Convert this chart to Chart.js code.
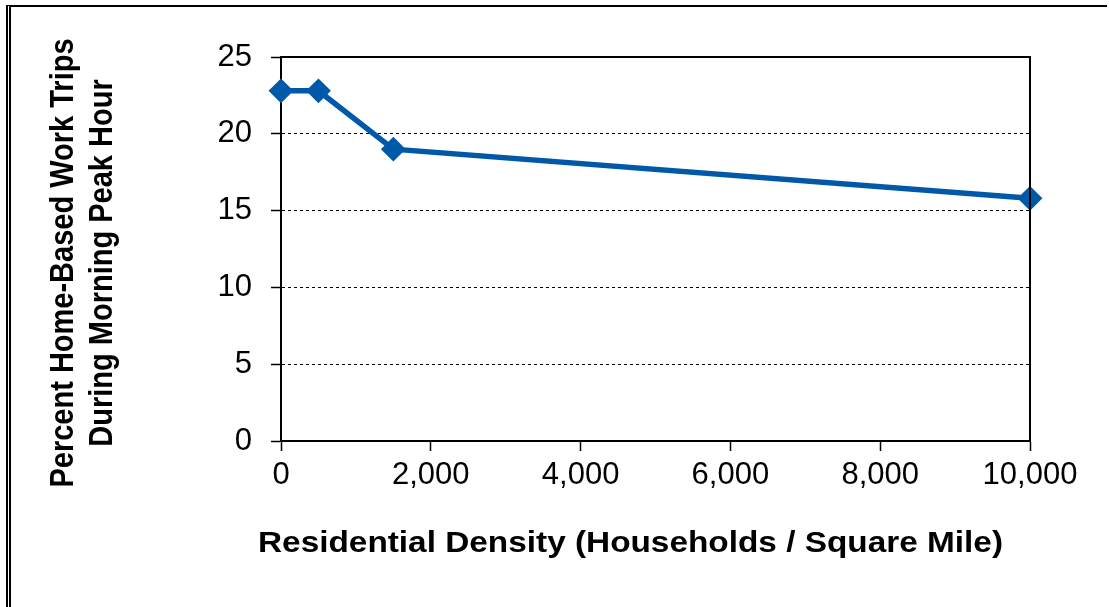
<!DOCTYPE html>
<html>
<head>
<meta charset="utf-8">
<script src="https://cdn.jsdelivr.net/npm/chart.js@4/dist/chart.umd.min.js"></script>
<style>
  html, body { margin: 0; padding: 0; background: #fff; }
  #wrap { position: relative; width: 1109px; height: 607px; overflow: hidden; }
  #frame {
    position: absolute; left: 6px; top: 5px; width: 1101px; height: 610px;
    box-sizing: border-box; border-top: 2px solid #000; border-left: 5px double #000;
  }
  #chart { position: absolute; left: 0; top: 0; }
</style>
</head>
<body>
<div id="wrap">
  <div id="frame"></div>
  <canvas id="chart" width="1109" height="607"></canvas>
</div>
<script>
  const densities = [0, 500, 1500, 10000];
  const peakShares = [22.8, 22.8, 19.0, 15.8];
  const xTitle = "Residential Density (Households / Square Mile)";
  const yTitleLines = ["Percent Home-Based Work Trips", "During Morning Peak Hour"];

  const lineColor = "#0059a8";
  const tickFont = { family: "'Liberation Sans', Arial, sans-serif", size: 31 };

  // top & right edge of the plot box + the axis titles
  const framePlugin = {
    id: "framePlugin",
    afterDraw(chart) {
      const { ctx, chartArea } = chart;
      ctx.save();
      ctx.strokeStyle = "#000";
      ctx.lineWidth = 2;
      ctx.beginPath();
      ctx.moveTo(chartArea.left, chartArea.top);
      ctx.lineTo(chartArea.right, chartArea.top);
      ctx.lineTo(chartArea.right, chartArea.bottom);
      ctx.stroke();

      ctx.fillStyle = "#000";
      ctx.font = "bold 29px 'Liberation Sans', Arial, sans-serif";
      ctx.textAlign = "center";
      ctx.textBaseline = "alphabetic";

      ctx.save();
      ctx.translate(630.5, 552);
      ctx.scale(1.15, 1);
      ctx.fillText(xTitle, 0, 0);
      ctx.restore();

      const baselines = [73, 112];
      yTitleLines.forEach((line, i) => {
        ctx.save();
        ctx.translate(baselines[i], 263);
        ctx.scale(1.14, 1);
        ctx.rotate(-Math.PI / 2);
        ctx.fillText(line, 0, 0);
        ctx.restore();
      });
      ctx.restore();
    },
  };

  new Chart(document.getElementById("chart"), {
    type: "line",
    data: {
      datasets: [
        {
          data: densities.map((d, i) => ({ x: d, y: peakShares[i] })),
          borderColor: lineColor,
          backgroundColor: lineColor,
          borderWidth: 5.5,
          pointStyle: "rectRot",
          pointRadius: 11,
          pointBorderWidth: 2,
          pointHoverRadius: 11,
          fill: false,
          tension: 0,
          clip: false,
        },
      ],
    },
    options: {
      responsive: false,
      animation: false,
      events: [],
      layout: { padding: { top: 57, right: 79, left: 0, bottom: 0 } },
      plugins: { legend: { display: false }, tooltip: { enabled: false } },
      scales: {
        x: {
          type: "linear",
          min: 0,
          max: 10000,
          afterFit(scale) { scale.height = 166; },
          ticks: {
            stepSize: 2000,
            padding: 6,
            color: "#000",
            font: tickFont,
            maxRotation: 0,
            callback: (v) => v.toLocaleString("en-US"),
          },
          grid: { drawOnChartArea: false, tickLength: 10, tickColor: "#000", tickWidth: 1.5 },
          border: { color: "#000", width: 2 },
        },
        y: {
          min: 0,
          max: 25,
          afterFit(scale) { scale.width = 281; },
          ticks: { stepSize: 5, padding: 19, color: "#000", font: tickFont },
          grid: {
            color: (c) => (c.tick && (c.tick.value === 0 || c.tick.value === 25) ? "rgba(0,0,0,0)" : "#000"),
            lineWidth: 1,
            tickLength: 10,
            tickColor: "#000",
            tickWidth: 1.5,
          },
          border: { color: "#000", width: 2, dash: [3, 3] },
        },
      },
    },
    plugins: [framePlugin],
  });
</script>
</body>
</html>
